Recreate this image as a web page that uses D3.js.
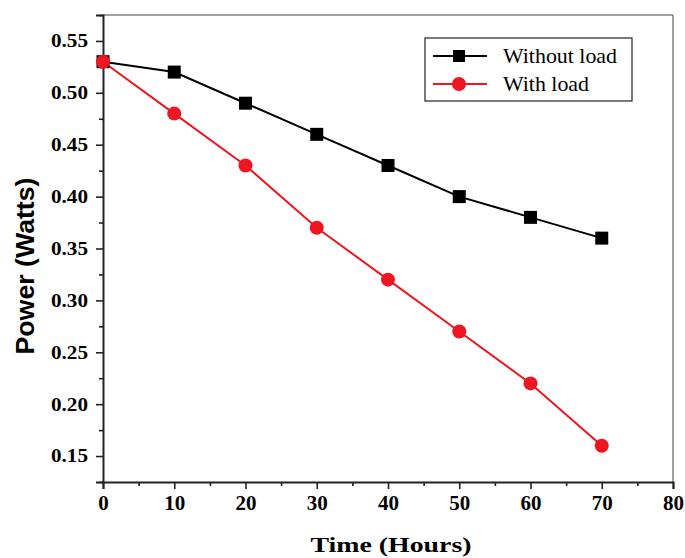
<!DOCTYPE html>
<html><head><meta charset="utf-8">
<script src="https://cdn.jsdelivr.net/npm/d3@7"></script>
<style>body{margin:0;background:#fff}</style>
</head><body>
<svg id="c" width="685" height="558"></svg>
<script>
const hours = [0, 10, 20, 30, 40, 50, 60, 70];
const withoutLoad = [0.53, 0.52, 0.49, 0.46, 0.43, 0.40, 0.38, 0.36];
const withLoad = [0.53, 0.48, 0.43, 0.37, 0.32, 0.27, 0.22, 0.16];
const xTicks = [0, 10, 20, 30, 40, 50, 60, 70, 80];
const yTicks = [0.15, 0.20, 0.25, 0.30, 0.35, 0.40, 0.45, 0.50, 0.55];
const seriesNames = ["Without load", "With load"];

const W = 685, H = 558;
const m = {l: 103, r: 12, t: 15, b: 76};
const svg = d3.select("#c");
const x = d3.scaleLinear().domain([0, 80]).range([m.l, W - m.r]);
const y = d3.scaleLinear().domain([0.125, 0.575]).range([H - m.b, m.t]);

// frame top/right
svg.append("line").attr("x1", m.l).attr("x2", W - m.r).attr("y1", m.t).attr("y2", m.t)
  .attr("stroke", "#444").attr("stroke-width", 1);
svg.append("line").attr("x1", W - m.r).attr("x2", W - m.r).attr("y1", m.t).attr("y2", H - m.b)
  .attr("stroke", "#444").attr("stroke-width", 1);

const serif = "'Liberation Serif','Times New Roman',serif";
// x axis
const xMinor = d3.range(5, 80, 10);
const gx = svg.append("g").attr("transform", `translate(0,${H - m.b})`);
gx.call(d3.axisBottom(x).tickValues(xTicks).tickSize(7).tickPadding(6).tickFormat(d3.format("d")));
gx.append("g").call(d3.axisBottom(x).tickValues(xMinor).tickSize(4).tickFormat(""))
  .select(".domain").remove();
gx.selectAll("text").attr("font-family", serif).attr("font-weight", "bold").attr("font-size", 21).attr("fill", "#000");

// y axis
const yMinor = d3.range(0.125, 0.6, 0.05);
const gy = svg.append("g").attr("transform", `translate(${m.l},0)`);
gy.call(d3.axisLeft(y).tickValues(yTicks).tickSize(7).tickPadding(8).tickFormat(d3.format(".2f")));
gy.append("g").call(d3.axisLeft(y).tickValues(yMinor).tickSize(4).tickFormat(""))
  .select(".domain").remove();
gy.selectAll("text").attr("font-family", serif).attr("font-weight", "bold").attr("font-size", 18.5)
  .attr("fill", "#000").attr("textLength", 37).attr("lengthAdjust", "spacingAndGlyphs");

svg.selectAll(".domain").attr("stroke-width", 2).attr("stroke", "#222");
svg.selectAll(".tick line").attr("stroke-width", 1.6).attr("stroke", "#222");

// lines
const red = "#ee1620";
const line = d3.line().x((d, i) => x(hours[i])).y(d => y(d));
svg.append("path").datum(withoutLoad).attr("d", line).attr("fill", "none").attr("stroke", "#000").attr("stroke-width", 2);
svg.append("path").datum(withLoad).attr("d", line).attr("fill", "none").attr("stroke", red).attr("stroke-width", 2);
svg.selectAll(".sq").data(withoutLoad).enter().append("rect")
  .attr("x", (d, i) => x(hours[i]) - 6.5).attr("y", d => y(d) - 6.5).attr("width", 13).attr("height", 13).attr("fill", "#000");
svg.selectAll(".ci").data(withLoad).enter().append("circle")
  .attr("cx", (d, i) => x(hours[i])).attr("cy", d => y(d)).attr("r", 7).attr("fill", red);

// legend
const lg = svg.append("g");
lg.append("rect").attr("x", 425).attr("y", 38).attr("width", 207).attr("height", 63)
  .attr("fill", "#fff").attr("stroke", "#222").attr("stroke-width", 1.2);
const ly = [56, 84];
const lw = [114, 86];
seriesNames.forEach((n, i) => {
  const c = i === 0 ? "#000" : red;
  lg.append("line").attr("x1", 433).attr("x2", 487).attr("y1", ly[i]).attr("y2", ly[i]).attr("stroke", c).attr("stroke-width", 2);
  if (i === 0) lg.append("rect").attr("x", 453).attr("y", ly[i] - 6).attr("width", 12).attr("height", 12).attr("fill", c);
  else lg.append("circle").attr("cx", 459).attr("cy", ly[i]).attr("r", 7).attr("fill", c);
  lg.append("text").attr("x", 503).attr("y", ly[i] + 7).text(n)
    .attr("font-family", serif).attr("font-size", 21.5).attr("fill", "#000")
    .attr("textLength", lw[i]).attr("lengthAdjust", "spacingAndGlyphs");
});

// axis titles
svg.append("text").attr("x", 391).attr("y", 552).attr("text-anchor", "middle")
  .attr("font-family", serif).attr("font-weight", "bold").attr("font-size", 22).attr("fill", "#000")
  .attr("textLength", 161).attr("lengthAdjust", "spacingAndGlyphs").text("Time (Hours)");
svg.append("text").attr("transform", "translate(34,266) rotate(-90)").attr("text-anchor", "middle")
  .attr("font-family", "'Liberation Sans',Arial,sans-serif").attr("font-weight", "bold").attr("font-size", 25).attr("fill", "#000")
  .attr("textLength", 177).attr("lengthAdjust", "spacingAndGlyphs").text("Power (Watts)");
</script>
</body></html>
